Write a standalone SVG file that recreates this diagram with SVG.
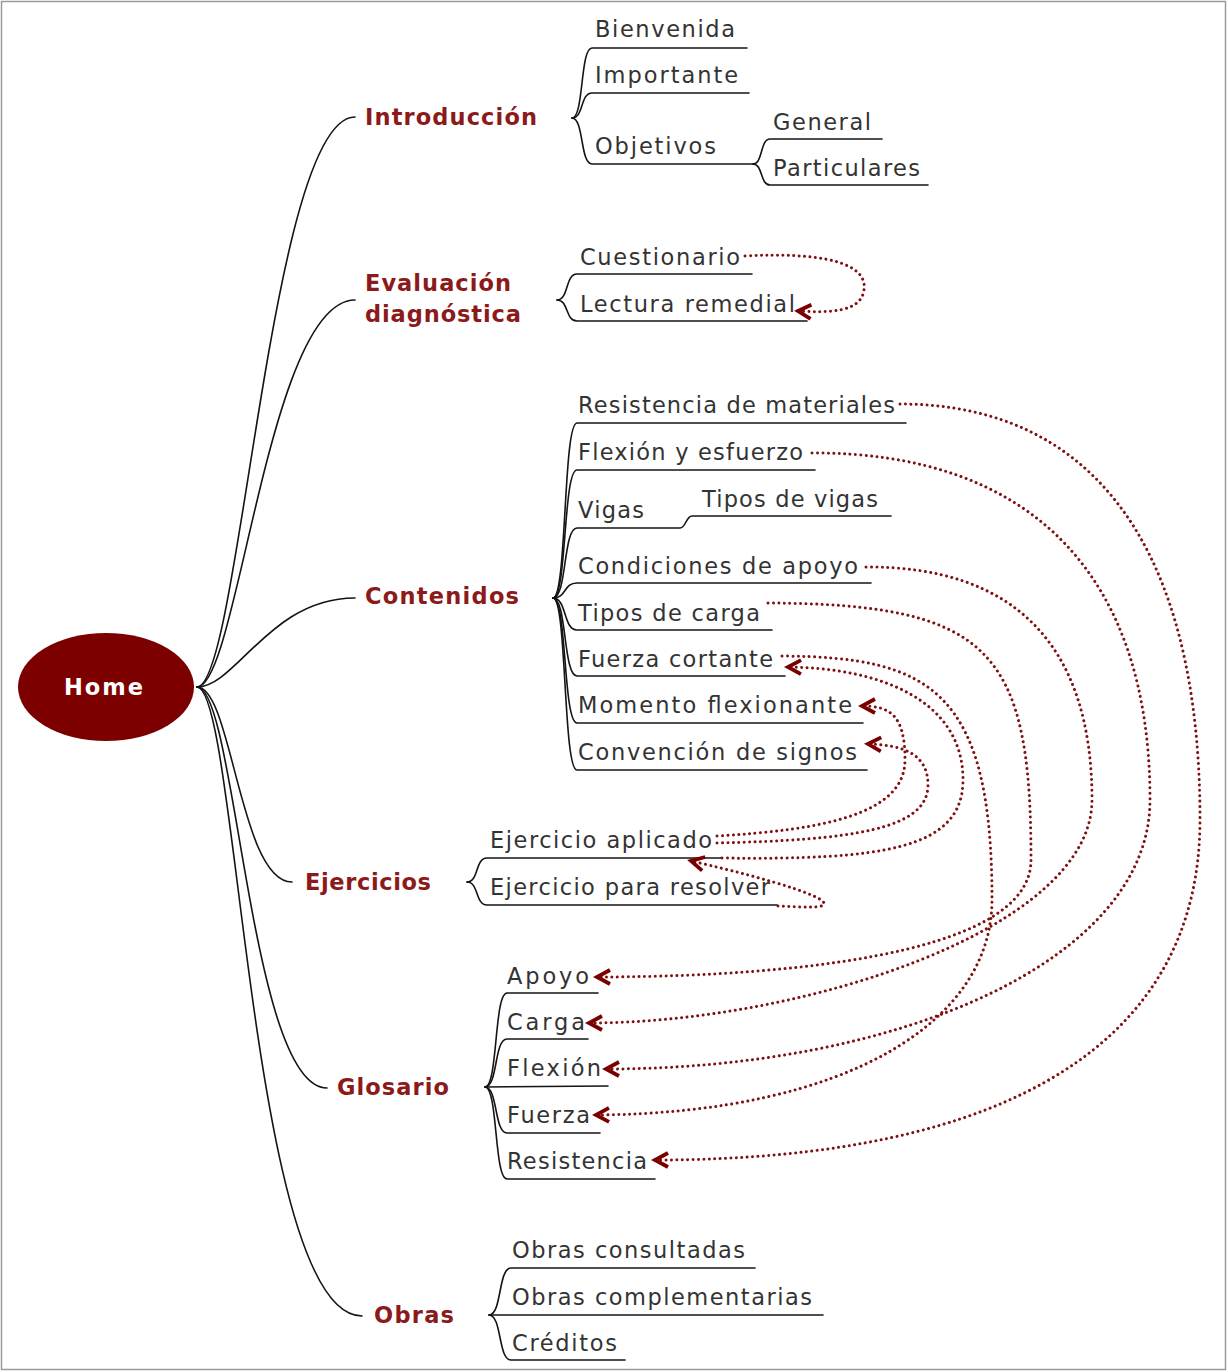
<svg xmlns="http://www.w3.org/2000/svg" width="1228" height="1372" viewBox="0 0 1228 1372">
<style>
.bg{fill:#ffffff}
.frame{fill:none;stroke:#9a9a9a;stroke-width:1.5}
.tree{fill:none;stroke:#141414;stroke-width:1.6;stroke-linecap:round}
.link{fill:none;stroke:#7e1010;stroke-width:3;stroke-dasharray:0.01 5.4;stroke-linecap:round}
.main{font-family:"DejaVu Sans","Open Sans",sans-serif;font-weight:bold;font-size:22.5px;fill:#8b1a1a}
.item{font-family:"DejaVu Sans","Open Sans",sans-serif;font-size:22.5px;fill:#333333}
.home{font-family:"DejaVu Sans","Open Sans",sans-serif;font-weight:bold;font-size:22.5px;fill:#ffffff}
</style>
<defs>
<marker id="ah" markerUnits="userSpaceOnUse" markerWidth="30" markerHeight="30" refX="0" refY="0" orient="auto" overflow="visible">
<path d="M-13,-7 L0,0 L-13,7" fill="none" stroke="#7a0000" stroke-width="3.8" stroke-dasharray="none" stroke-linejoin="miter"/>
</marker>
</defs>
<rect class="bg" x="0" y="0" width="1228" height="1372"/>
<rect class="frame" x="1.5" y="1.5" width="1224" height="1368"/>

<g id="connectors">
<!-- Home to main nodes -->
<path class="tree" d="M197,687 C240,687 270,117 355,117"/>
<path class="tree" d="M197,687 C238,687 268,300 355,300"/>
<path class="tree" d="M197,687 C236,687 270,598 355,598"/>
<path class="tree" d="M197,687 C232,687 240,882 292,882"/>
<path class="tree" d="M197,687 C236,687 250,1088 327,1088"/>
<path class="tree" d="M197,687 C238,687 250,1316 362,1316"/>
<!-- Introduccion braces -->
<path class="tree" d="M572,118 C584,118 580,48 592,48 L747,48"/>
<path class="tree" d="M572,118 C584,118 580,93 592,93 L749,93"/>
<path class="tree" d="M572,118 C584,118 580,164 592,164 L753,164"/>
<path class="tree" d="M753,164 C763,164 760,139 770,139 L882,139"/>
<path class="tree" d="M753,164 C763,164 760,185 770,185 L928,185"/>
<!-- Evaluacion braces -->
<path class="tree" d="M557,300 C569,300 565,274 577,274 L752,274"/>
<path class="tree" d="M557,300 C569,300 565,321 577,321 L807,321"/>
<!-- Contenidos braces -->
<path class="tree" d="M553,598 C567,598 563,423 577,423 L906,423"/>
<path class="tree" d="M553,598 C567,598 563,470 577,470 L815,470"/>
<path class="tree" d="M553,598 C567,598 563,528 577,528 L680,528 C686,528 686,516 692,516 L891,516"/>
<path class="tree" d="M553,598 C567,598 563,583 577,583 L871,583"/>
<path class="tree" d="M553,598 C567,598 563,630 577,630 L772,630"/>
<path class="tree" d="M553,598 C567,598 563,676 577,676 L785,676"/>
<path class="tree" d="M553,598 C567,598 563,723 577,723 L863,723"/>
<path class="tree" d="M553,598 C567,598 563,770 577,770 L867,770"/>
<!-- Ejercicios braces -->
<path class="tree" d="M467,882 C479,882 475,858 487,858 L722,858"/>
<path class="tree" d="M467,882 C479,882 475,905 487,905 L777,905"/>
<!-- Glosario braces -->
<path class="tree" d="M485,1087 C498,1087 494,993 507,993 L598,993"/>
<path class="tree" d="M485,1087 C498,1087 494,1039 507,1039 L588,1039"/>
<path class="tree" d="M485,1087 L608,1086"/>
<path class="tree" d="M485,1087 C498,1087 494,1133 507,1133 L600,1133"/>
<path class="tree" d="M485,1087 C498,1087 494,1179 507,1179 L655,1179"/>
<!-- Obras braces -->
<path class="tree" d="M489,1315 C502,1315 498,1268 511,1268 L755,1268"/>
<path class="tree" d="M489,1315 L823,1315"/>
<path class="tree" d="M489,1315 C502,1315 498,1360 511,1360 L625,1360"/>

<!-- dotted cross links -->
<path class="link" marker-end="url(#ah)" d="M745,256 C820,252 868,262 864,290 C861,312 830,313 798,311"/>
<path class="link" marker-end="url(#ah)" d="M900,404 C1095,404 1200,550 1200,820 C1200,1041 1010,1160 655,1160"/>
<path class="link" marker-end="url(#ah)" d="M812,453 C1030,452 1150,574 1150,800 C1150,960 900,1069 606,1069"/>
<path class="link" marker-end="url(#ah)" d="M866,567 C1013,566 1092,644 1092,800 C1092,930 800,1023 589,1023"/>
<path class="link" marker-end="url(#ah)" d="M768,603 C990,604 1031,650 1031,860 C1031,960 760,977 597,977"/>
<path class="link" marker-end="url(#ah)" d="M782,656 C930,657 992,690 992,900 C992,1020 850,1113 596,1115"/>
<path class="link" marker-end="url(#ah)" d="M717,836 C820,830 905,815 905,760 C905,715 890,706 862,706"/>
<path class="link" marker-end="url(#ah)" d="M717,843 C850,840 928,830 928,785 C928,752 900,745 868,744"/>
<path class="link" marker-end="url(#ah)" d="M722,858 C880,860 963,850 963,780 C963,700 880,668 788,667"/>
<path class="link" marker-end="url(#ah)" d="M778,906 C800,907 826,909 824,903 C820,893 740,872 691,861"/>
</g>

<g id="home">
<ellipse cx="106" cy="687" rx="88" ry="54" fill="#7d0000"/>
<text class="home" x="64" y="695" textLength="79">Home</text>
</g>

<g id="introduccion"><text class="main" x="365" y="125" textLength="172">Introducción</text></g>
<g id="evaluacion"><text class="main" x="365" y="291" textLength="146">Evaluación</text><text class="main" x="365" y="322" textLength="156">diagnóstica</text></g>
<g id="contenidos"><text class="main" x="365" y="604" textLength="154">Contenidos</text></g>
<g id="ejercicios"><text class="main" x="305" y="890" textLength="126">Ejercicios</text></g>
<g id="glosario"><text class="main" x="337" y="1095" textLength="112">Glosario</text></g>
<g id="obras"><text class="main" x="374" y="1323" textLength="80">Obras</text></g>

<g id="bienvenida"><text class="item" x="595" y="37" textLength="140">Bienvenida</text></g>
<g id="importante"><text class="item" x="595" y="83" textLength="143">Importante</text></g>
<g id="objetivos"><text class="item" x="595" y="154" textLength="121">Objetivos</text></g>
<g id="general"><text class="item" x="773" y="130" textLength="98">General</text></g>
<g id="particulares"><text class="item" x="773" y="176" textLength="147">Particulares</text></g>
<g id="cuestionario"><text class="item" x="580" y="265" textLength="160">Cuestionario</text></g>
<g id="lectura-remedial"><text class="item" x="580" y="312" textLength="215">Lectura remedial</text></g>
<g id="resistencia-materiales"><text class="item" x="578" y="413" textLength="317">Resistencia de materiales</text></g>
<g id="flexion-esfuerzo"><text class="item" x="578" y="460" textLength="225">Flexión y esfuerzo</text></g>
<g id="vigas"><text class="item" x="578" y="518" textLength="66">Vigas</text></g>
<g id="tipos-vigas"><text class="item" x="702" y="507" textLength="176">Tipos de vigas</text></g>
<g id="condiciones-apoyo"><text class="item" x="578" y="574" textLength="280">Condiciones de apoyo</text></g>
<g id="tipos-carga"><text class="item" x="578" y="621" textLength="182">Tipos de carga</text></g>
<g id="fuerza-cortante"><text class="item" x="578" y="667" textLength="195">Fuerza cortante</text></g>
<g id="momento-flexionante"><text class="item" x="578" y="713" textLength="274">Momento flexionante</text></g>
<g id="convencion-signos"><text class="item" x="578" y="760" textLength="279">Convención de signos</text></g>
<g id="ejercicio-aplicado"><text class="item" x="490" y="848" textLength="222">Ejercicio aplicado</text></g>
<g id="ejercicio-resolver"><text class="item" x="490" y="895" textLength="280">Ejercicio para resolver</text></g>
<g id="apoyo"><text class="item" x="507" y="984" textLength="82">Apoyo</text></g>
<g id="carga"><text class="item" x="507" y="1030" textLength="78">Carga</text></g>
<g id="flexion"><text class="item" x="507" y="1076" textLength="94">Flexión</text></g>
<g id="fuerza"><text class="item" x="507" y="1123" textLength="83">Fuerza</text></g>
<g id="resistencia"><text class="item" x="507" y="1169" textLength="140">Resistencia</text></g>
<g id="obras-consultadas"><text class="item" x="512" y="1258" textLength="233">Obras consultadas</text></g>
<g id="obras-complementarias"><text class="item" x="512" y="1305" textLength="300">Obras complementarias</text></g>
<g id="creditos"><text class="item" x="512" y="1351" textLength="105">Créditos</text></g>
</svg>
